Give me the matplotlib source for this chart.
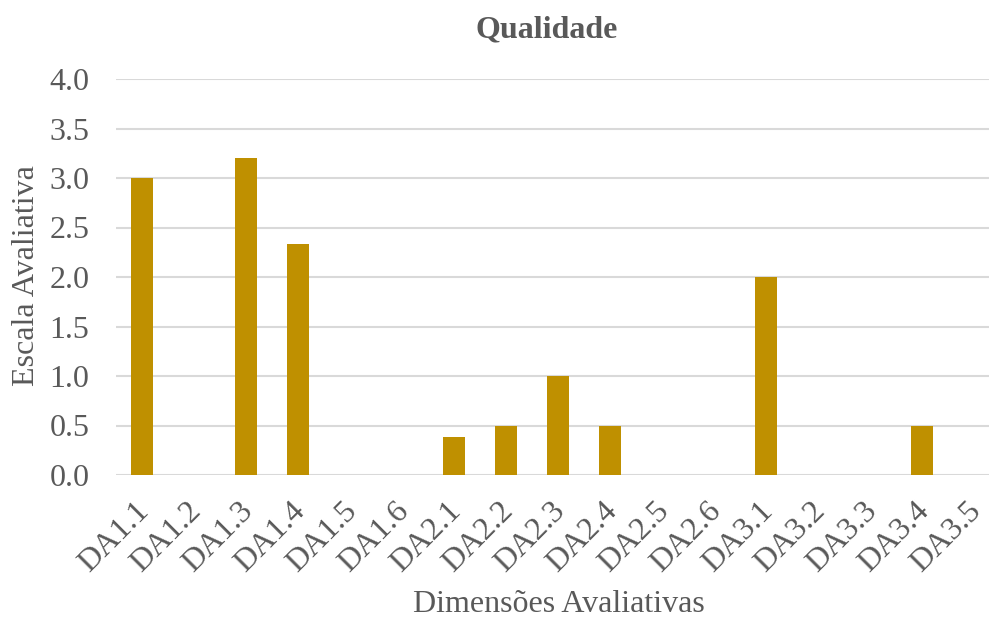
import matplotlib
matplotlib.use("Agg")
from matplotlib import pyplot as plt
from matplotlib import transforms as mtransforms

# avaliações por dimensão
dimensoes = ["DA1.1", "DA1.2", "DA1.3", "DA1.4", "DA1.5", "DA1.6",
             "DA2.1", "DA2.2", "DA2.3", "DA2.4", "DA2.5", "DA2.6",
             "DA3.1", "DA3.2", "DA3.3", "DA3.4", "DA3.5"]
valores = [3.0, 0, 3.2, 2.33, 0, 0,
           0.38, 0.5, 1.0, 0.5, 0, 0,
           2.0, 0, 0, 0.5, 0]
yticks = [0.0, 0.5, 1.0, 1.5, 2.0, 2.5, 3.0, 3.5, 4.0]

cinza = "#595959"
fs = 23
plt.rcParams["font.family"] = ["Liberation Serif", "DejaVu Serif"]

fig = plt.figure(figsize=(9.89, 6.18), dpi=100)
ax = fig.add_axes([116/989, 1-475/618, 884/989, 396/618])

x = list(range(len(dimensoes)))
ax.bar(x, valores, width=0.43, color="#BF9000", zorder=3)
ax.set_xlim(-0.5, len(dimensoes)-0.5)
ax.set_ylim(0, 4.0)
ax.set_yticks(yticks)
ax.set_yticklabels(["%.1f" % v for v in yticks])
ax.set_xticks(x)
ax.set_xticklabels(dimensoes, rotation=45, ha="right", va="top", rotation_mode="anchor")
ax.tick_params(axis="both", length=0, labelsize=fs, labelcolor=cinza)
ax.tick_params(axis="y", pad=19)
ax.tick_params(axis="x", pad=6)
# desloca os rótulos inclinados um pouco para baixo e à esquerda
desloc = mtransforms.ScaledTranslation(-8/100, -13/100, fig.dpi_scale_trans)
for lbl in ax.get_xticklabels():
    lbl.set_transform(lbl.get_transform() + desloc)
ax.grid(axis="y", color="#D9D9D9", linewidth=1.5, zorder=0)
for s in ax.spines.values():
    s.set_visible(False)

fig.text(27/989, 1-276/618, "Escala Avaliativa", fontsize=fs, color=cinza,
         rotation=90, ha="center", va="center")
fig.text(559/989, 1-604/618, "Dimensões Avaliativas", fontsize=fs, color=cinza, ha="center", va="center")
fig.text(547/989, 1-30/618, "Qualidade", fontsize=fs, fontweight="bold", color=cinza, ha="center", va="center")

plt.savefig("out.png")
